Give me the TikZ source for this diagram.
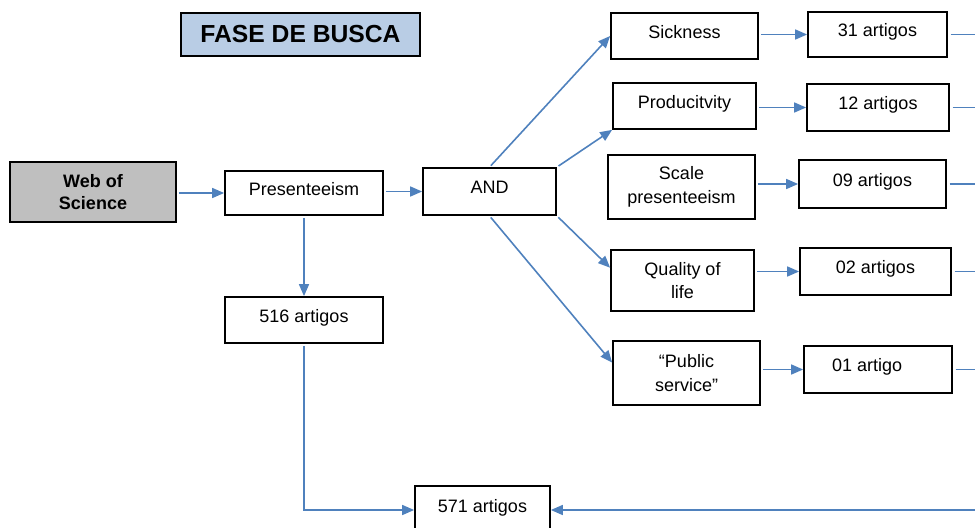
\documentclass[tikz,border=0pt]{standalone}
\usepackage{fontspec}
\setmainfont{Liberation Sans}
\usetikzlibrary{arrows.meta}

\definecolor{arrblue}{RGB}{79,129,189}
\definecolor{titleblue}{RGB}{185,205,229}
\definecolor{webgray}{RGB}{191,191,191}

\tikzset{
	box/.style={draw, line width=1.3pt, inner sep=0pt, align=center, font=\fontsize{13.5}{17.5}\selectfont},
	single/.style={text height=0.75em, text depth=0.4em},
	size/.style 2 args={minimum width=#1*0.75pt, minimum height=#2*0.75pt},
	arr/.style={draw=arrblue, line width=1.2pt, shorten <=1.5pt, -{Triangle[length=9pt,width=7.5pt]}},
	link/.style={draw=arrblue, line width=1.2pt, shorten <=2pt}
}

\begin{document}
\begin{tikzpicture}[x=0.75pt,y=0.75pt,yscale=-1,xscale=1]
		\useasboundingbox (0,0) rectangle (975,528);

		%Shape: Title
		\node [box, fill=titleblue, size={239}{43}, font=\bfseries\fontsize{18.5}{22}\selectfont] (title) at (300.5,34.5) {FASE DE BUSCA};

		%Shape: Rectangle (left column)
		\node [box, fill=webgray, size={166}{60}, font=\bfseries\fontsize{13.5}{17}\selectfont] (web) at (93,192) {Web of\\Science};
		\node [box, single, size={158}{44}] (pres) at (304,193) {Presenteeism};
		\node [box, single, size={158}{46}] (a516) at (304,320) {516 artigos};
		\node [box, single, size={133}{47}] (and) at (489.5,191.5) {AND};
		\node [box, single, size={135}{48}] (a571) at (482.5,510) {571 artigos};

		%Shape: Rectangle (search terms)
		\node [box, single, size={147}{46}] (sick) at (684.5,36) {Sickness};
		\node [box, single, size={143}{46}] (prod) at (684.5,106) {Producitvity};
		\node [box, size={147}{64}] (scale) at (681.5,187) {Scale\\presenteeism};
		\node [box, size={143}{61}] (qual) at (682.5,280.5) {Quality of\\life};
		\node [box, size={147}{64}] (pub) at (686.5,373) {``Public\\service''};

		%Shape: Rectangle (counts)
		\node [box, single, size={139}{45}] (c31) at (877.5,34.5) {31 artigos};
		\node [box, single, size={142}{47}] (c12) at (878,107.5) {12 artigos};
		\node [box, single, size={147}{48}] (c09) at (872.5,184) {09 artigos};
		\node [box, single, size={151}{47}] (c02) at (875.5,271.5) {02 artigos};
		\node [box, single, size={148}{47}] (c01) at (878,369.5) {01 artigo\hspace*{1.2em}};

		%right edge
		\coordinate (rt) at (980,0);
		\coordinate (rb) at (980,510);

		%Straight Lines
		\draw [arr] (web.east |- pres) -- (pres.west);
		\draw [arr] (pres.east |- and) -- (and.west);
		\draw [arr] (pres.south) -- (a516.north);
		\draw [arr] (a516.south) |- (a571.west);
		\draw [arr] (and.north) -- (sick.west);
		\draw [arr] (and.north east) -- (prod.south west);
		\draw [arr] (and.south east) -- (qual.170);
		\draw [arr] (and.south) -- (pub.172);

		\draw [arr] (sick.east |- c31.west) -- (c31.west);
		\draw [arr] (prod.east |- c12.west) -- (c12.west);
		\draw [arr] (scale.east |- c09.west) -- (c09.west);
		\draw [arr] (qual.east |- c02.west) -- (c02.west);
		\draw [arr] (pub.east |- c01.west) -- (c01.west);

		\draw [link] (c31.east) -- (c31.east -| rt);
		\draw [link] (c12.east) -- (c12.east -| rt);
		\draw [link] (c09.east) -- (c09.east -| rt);
		\draw [link] (c02.east) -- (c02.east -| rt);
		\draw [link] (c01.east) -- (c01.east -| rt);
		\draw [arr] (rb) -- (a571.east);

	\end{tikzpicture}
\end{document}
